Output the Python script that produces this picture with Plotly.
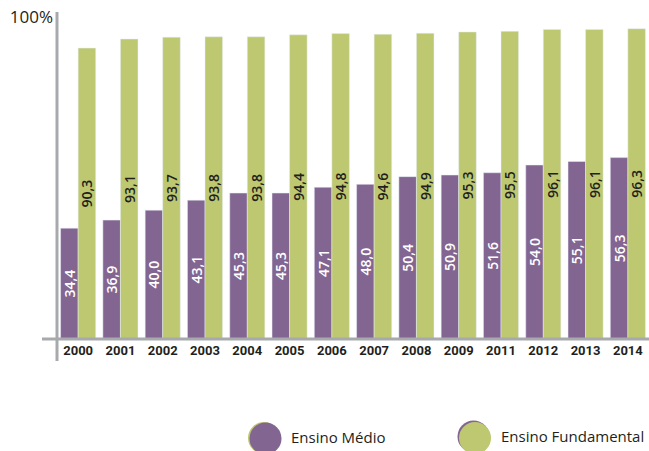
import plotly.graph_objects as go

years = ["2000", "2001", "2002", "2003", "2004", "2005", "2006", "2007",
         "2008", "2009", "2011", "2012", "2013", "2014"]
medio = [34.4, 36.9, 40.0, 43.1, 45.3, 45.3, 47.1, 48.0, 50.4, 50.9, 51.6, 54.0, 55.1, 56.3]
fundamental = [90.3, 93.1, 93.7, 93.8, 93.8, 94.4, 94.8, 94.6, 94.9, 95.3, 95.5, 96.1, 96.1, 96.3]
series_names = ["Ensino Médio", "Ensino Fundamental"]

PURPLE = "#836591"
GREEN = "#BEC870"
GRAY = "#A7A9AC"
DARK = "#231F20"

W, H = 649, 451
ML, MR, MT, MB = 57, 0, 12, 112
PW = W - ML - MR
PH = H - MT - MB

def px(x):
    return (x - ML) / PW

def py(y):
    return (H - MB - y) / PH

fig = go.Figure()
fig.add_trace(go.Bar(
    x=years, y=medio, name=series_names[0], marker_color=PURPLE,
    texttemplate="%{y:.1f}", textposition="inside", insidetextanchor="middle",
    textangle=-90, constraintext="none",
    textfont=dict(family="Open Sans, sans-serif", size=14, color="white", weight=600),
))
fig.add_trace(go.Bar(
    x=years, y=fundamental, name=series_names[1], marker_color=GREEN,
    texttemplate="%{y:.1f}", textposition="inside", insidetextanchor="middle",
    textangle=-90, constraintext="none",
    textfont=dict(family="Open Sans, sans-serif", size=14, color=DARK, weight=600),
))

shapes = [
    dict(type="line", xref="paper", yref="paper", x0=px(42), x1=1.0, y0=0, y1=0,
         line=dict(color=GRAY, width=3), layer="above"),
    dict(type="line", xref="paper", yref="paper", x0=0, x1=0, y0=py(361), y1=1.0,
         line=dict(color=GRAY, width=3), layer="above"),
]

def circle(cx, cy, r, color):
    return dict(type="circle", xref="paper", yref="paper",
                xsizemode="pixel", ysizemode="pixel",
                xanchor=px(cx), yanchor=py(cy),
                x0=-r, x1=r, y0=-r, y1=r,
                fillcolor=color, line=dict(width=0), layer="above")

shapes += [
    circle(264, 438, 16, GREEN),
    circle(265.5, 438.5, 16, PURPLE),
    circle(473.5, 436.5, 16, PURPLE),
    circle(475, 438, 16, GREEN),
]

annotations = [
    dict(text=series_names[0], xref="paper", yref="paper", x=px(289), y=py(437),
         xanchor="left", yanchor="middle", showarrow=False,
         font=dict(family="Open Sans, sans-serif", size=15, color=DARK)),
    dict(text=series_names[1], xref="paper", yref="paper", x=px(499), y=py(436),
         xanchor="left", yanchor="middle", showarrow=False,
         font=dict(family="Open Sans, sans-serif", size=15, color=DARK)),
]

fig.update_layout(
    width=W, height=H,
    margin=dict(l=ML, r=MR, t=MT, b=MB),
    paper_bgcolor="white", plot_bgcolor="white",
    barmode="group", bargap=0.17, bargroupgap=0,
    showlegend=False,
    separators=",.",
    shapes=shapes,
    annotations=annotations,
)
fig.update_xaxes(
    type="category", range=[-0.5, 13.5],
    showline=False, showgrid=False, zeroline=False, ticks="",
    tickfont=dict(family="Liberation Sans Narrow, Arial Narrow, Roboto, sans-serif",
                  size=13, color=DARK, weight="bold"),
    ticklabelstandoff=2,
)
fig.update_yaxes(
    range=[0, 101.5],
    tickvals=[100], ticktext=["100%"],
    showline=False, showgrid=False, zeroline=False, ticks="",
    tickfont=dict(family="Open Sans, sans-serif", size=17, color=DARK),
    ticklabelstandoff=3,
)

fig.write_html(
    "out.html",
    config={"displayModeBar": False},
    post_script="document.body.style.margin='0';document.body.style.padding='0';"
                "document.body.style.overflow='hidden';",
)
